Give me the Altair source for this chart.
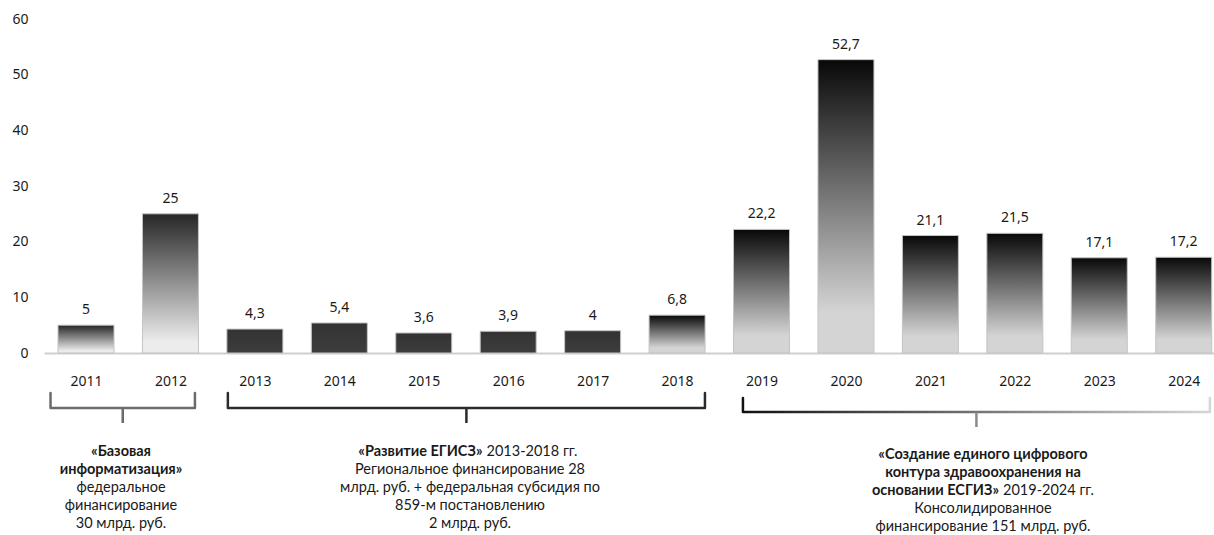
import altair as alt
import pandas as pd

# ---------------- data ----------------
years = [2011, 2012, 2013, 2014, 2015, 2016, 2017, 2018, 2019, 2020, 2021, 2022, 2023, 2024]
values = [5, 25, 4.3, 5.4, 3.6, 3.9, 4, 6.8, 22.2, 52.7, 21.1, 21.5, 17.1, 17.2]
y_ticks = [0, 10, 20, 30, 40, 50, 60]

group_start = [2011, 2013, 2019]
group_end = [2012, 2018, 2024]

g1_bold = ["«Базовая", "информатизация»"]
g1_reg = ["федеральное", "финансирование", "30 млрд. руб."]
g2_head_bold = "«Развитие ЕГИСЗ»"
g2_head_reg = "2013-2018 гг."
g2_reg = ["Региональное финансирование 28", "млрд. руб. + федеральная субсидия по",
          "859-м постановлению", "2 млрд. руб."]
g3_bold = ["«Создание единого цифрового", "контура здравоохранения на"]
g3_mid_bold = "основании ЕСГИЗ»"
g3_mid_reg = "2019-2024 гг."
g3_reg = ["Консолидированное", "финансирование 151 млрд. руб."]

# ---------------- layout constants ----------------
W, H = 1170, 516
PX_PER_UNIT = 334 / 60.0          # y pixels per data unit
PX_PER_YEAR = 84.44
XMIN = 2011 - 42 / PX_PER_YEAR
XMAX = 2011 + (W - 42) / PX_PER_YEAR
YMIN = 60 - H / PX_PER_UNIT
HALF = 28 / PX_PER_YEAR


def yu(px):  # pixels below the zero line -> data units
    return -px / PX_PER_UNIT


def xpx(px):  # absolute page x pixel -> year units
    return 2011 + (px - 86) / PX_PER_YEAR


FONT_TICK = "Noto Sans"
FONT_NOTE = "Lato"
NOTE_SIZE = 14.5
TXT = "#1a1a1a"

bars = pd.DataFrame({"year": years, "value": values})

xs = alt.Scale(domain=[XMIN, XMAX], nice=False, zero=False)
ys = alt.Scale(domain=[YMIN, 60], nice=False, zero=False)

grad_a = {"gradient": "linear", "x1": 0, "x2": 0, "y1": 0, "y2": 1,
          "stops": [{"offset": 0, "color": "#262626"}, {"offset": 0.92, "color": "#ececec"},
                    {"offset": 1, "color": "#ececec"}]}
grad_b = {"gradient": "linear", "x1": 0, "x2": 0, "y1": 0, "y2": 1,
          "stops": [{"offset": 0, "color": "#080808"}, {"offset": 0.86, "color": "#d4d4d4"},
                    {"offset": 1, "color": "#d4d4d4"}]}
grad_c = {"gradient": "linear", "x1": 0, "x2": 0, "y1": 0, "y2": 1,
          "stops": [{"offset": 0, "color": "#333333"}, {"offset": 1, "color": "#3d3d3d"}]}
grad_br = {"gradient": "linear", "x1": 0, "x2": 1, "y1": 0, "y2": 0,
           "stops": [{"offset": 0, "color": "#111111"}, {"offset": 1, "color": "#d6d6d6"}]}

x_axis = alt.Axis(values=years, format="d", title=None, grid=False, ticks=False, tickSize=0,
                  offset=-(H - 334), domainColor="#cfcfcf", domainWidth=2,
                  labelFont=FONT_TICK, labelFontSize=14, labelColor=TXT,
                  labelBaseline="middle", labelPadding=28, labelOverlap=False)
y_axis = alt.Axis(values=y_ticks, title=None, grid=False, ticks=False, tickSize=0, domain=False,
                  labelFont=FONT_TICK, labelFontSize=14, labelColor=TXT, labelPadding=16,
                  labelOverlap=False)


def X(field):
    return alt.X(field, scale=xs, axis=x_axis)


def Y(field):
    return alt.Y(field, scale=ys, axis=y_axis)


base = alt.Chart(bars).transform_calculate(
    x0=f"datum.year - {HALF}", x1=f"datum.year + {HALF}",
    lab="replace(toString(datum.value), '.', ',')"
)


def bar_layer(fill, cond):
    return base.transform_filter(cond).mark_bar(
        fill=fill, stroke="#c4c4c4", strokeWidth=1
    ).encode(x=X("x0:Q"), x2="x1:Q", y=Y("value:Q"), y2=alt.datum(0))


bars_a = bar_layer(grad_a, "datum.year <= 2012")
bars_c = bar_layer(grad_c, "datum.year >= 2013 && datum.year <= 2017")
bars_b = bar_layer(grad_b, "datum.year >= 2018")

labels = base.mark_text(font=FONT_TICK, fontSize=14, color=TXT, baseline="middle", dy=-15).encode(
    x=X("year:Q"), y=Y("value:Q"), text="lab:N",
)

# ---------------- brackets ----------------
br_left_off = [-0.42, -0.32, -0.22]
br_right_off = [0.29, 0.33, 0.31]
br_top = [40, 40, 45]
br_bot = [55, 55, 59]
br_tick = [70, 70, 74]
br_colors = ["#6b6b6b", "#2b2b2b", None]
tick_colors = ["#6b6b6b", "#2b2b2b", "#8a8a8a"]

rows = []
ticks = []
for i in range(3):
    l = group_start[i] + br_left_off[i]
    r = group_end[i] + br_right_off[i]
    pts = [(l, br_top[i]), (l, br_bot[i]), (r, br_bot[i]), (r, br_top[i])]
    for k, (px, py) in enumerate(pts):
        rows.append({"g": i, "k": k, "x": px, "y": yu(py)})
    ticks.append({"g": i, "x": (l + r) / 2, "y": yu(br_bot[i]), "y2": yu(br_tick[i])})
br_df = pd.DataFrame(rows)
tick_df = pd.DataFrame(ticks)

bracket_layers = []
for i in range(3):
    stroke = br_colors[i] if br_colors[i] else grad_br
    bracket_layers.append(
        alt.Chart(br_df[br_df.g == i]).mark_line(
            stroke=stroke, strokeWidth=2.5, strokeJoin="round", strokeCap="round"
        ).encode(x=X("x:Q"), y=Y("y:Q"), order="k:O")
    )
for i in range(3):
    bracket_layers.append(
        alt.Chart(tick_df[tick_df.g == i]).mark_rule(
            color=tick_colors[i], strokeWidth=2.5
        ).encode(x=X("x:Q"), y=Y("y:Q"), y2="y2:Q")
    )

# ---------------- annotation text ----------------
text_cx = [xpx(121), xpx(470), xpx(983)]
split_x = [None, xpx(484.5), xpx(1001)]
first_line = [99, 99, 102]
LH = 18

ann = []


def add(g, line, text, kind, x):
    ann.append({"g": g, "line": line, "text": text, "kind": kind, "x": x,
                "y": yu(first_line[g] + LH * line)})


for j, t in enumerate(g1_bold):
    add(0, j, t, "cb", text_cx[0])
for j, t in enumerate(g1_reg):
    add(0, j + 2, t, "cr", text_cx[0])
add(1, 0, g2_head_bold, "rb", split_x[1])
add(1, 0, g2_head_reg, "lr", split_x[1])
for j, t in enumerate(g2_reg):
    add(1, j + 1, t, "cr", text_cx[1])
for j, t in enumerate(g3_bold):
    add(2, j, t, "cb", text_cx[2])
add(2, 2, g3_mid_bold, "rb", split_x[2])
add(2, 2, g3_mid_reg, "lr", split_x[2])
for j, t in enumerate(g3_reg):
    add(2, j + 3, t, "cr", text_cx[2])
ann_df = pd.DataFrame(ann)

text_layers = []
for kind, align, weight, dx in [("cb", "center", "bold", 0), ("cr", "center", "normal", 0),
                                ("rb", "right", "bold", -2), ("lr", "left", "normal", 2)]:
    text_layers.append(
        alt.Chart(ann_df[ann_df.kind == kind]).mark_text(
            font=FONT_NOTE, fontSize=NOTE_SIZE, fontWeight=weight, align=align, baseline="middle",
            color=TXT, dx=dx
        ).encode(x=X("x:Q"), y=Y("y:Q"), text="text:N")
    )

chart = alt.layer(bars_a, bars_c, bars_b, labels, *bracket_layers, *text_layers).properties(
    width=W, height=H,
    autosize=alt.AutoSizeParams(type="none"),
    padding={"left": 44, "top": 19, "right": 0, "bottom": 0},
    background="white",
).configure_view(stroke=None)

chart.save("out.html", embed_options={"renderer": "svg", "actions": False})
